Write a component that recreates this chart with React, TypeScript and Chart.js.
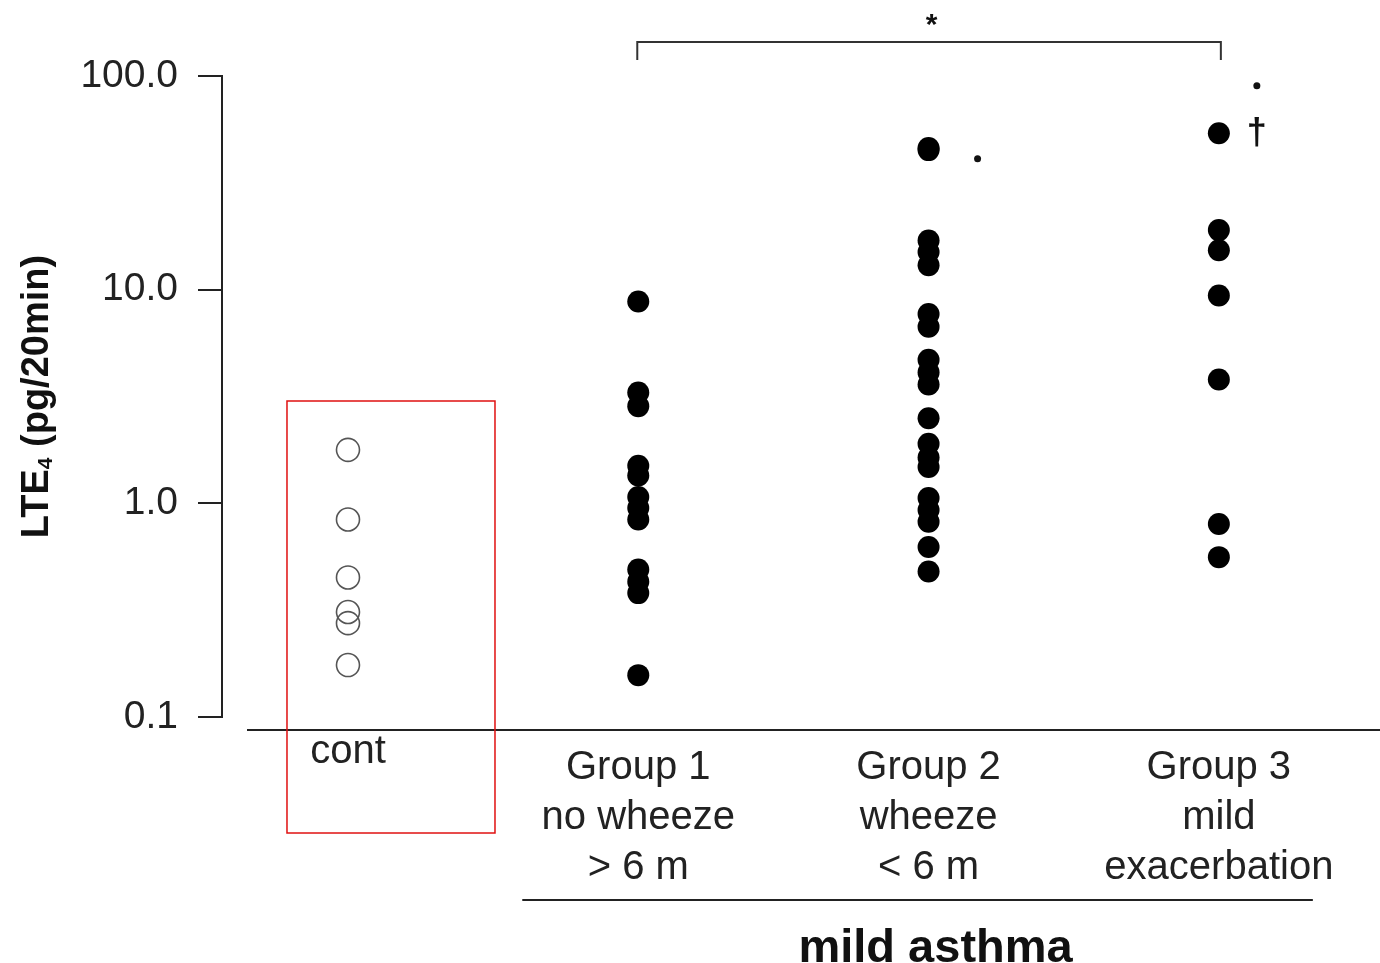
import React, { useEffect, useRef } from "react";
import { Chart, registerables } from "chart.js";

Chart.register(...registerables);

// ---- data ----
const categories = ["cont", "Group 1", "Group 2", "Group 3"];
const categoryLabels: string[][] = [
  ["cont"],
  ["Group 1", "no wheeze", "> 6 m"],
  ["Group 2", "wheeze", "< 6 m"],
  ["Group 3", "mild", "exacerbation"],
];
const yTicks = [0.1, 1, 10, 100];
const contValues = [1.78, 0.84, 0.45, 0.31, 0.275, 0.175];
const group1Values = [8.8, 3.3, 2.85, 1.5, 1.35, 1.07, 0.95, 0.84, 0.49, 0.43, 0.38, 0.157];
const group2Values = [45, 46, 17, 15, 13, 7.7, 6.7, 4.7, 4.1, 3.6, 2.5, 1.9, 1.64, 1.48, 1.06, 0.93, 0.82, 0.625, 0.48];
const group3Values = [54, 19, 15.3, 9.4, 3.8, 0.8, 0.56];
const groupTitle = "mild asthma";
const yTitleMain = "LTE";
const yTitleSub = "4";
const yTitleRest = " (pg/20min)";
const significanceStar = "*";
const dagger = "\u2020";
// small significance dots (category index, value)
const sigDots: [number, number][] = [
  [2, 41],
  [3, 90],
];

const FONT = "'Liberation Sans', Arial, Helvetica, sans-serif";
const INK = "#222";

const toPoints = (idx: number, vals: number[]) => vals.map((v) => ({ x: idx, y: v }));

const annotations = {
  id: "annotations",
  afterDraw(chart: any) {
    const ctx = chart.ctx as CanvasRenderingContext2D;
    const xs = chart.scales.x;
    const ys = chart.scales.y;
    const { top, bottom, left } = chart.chartArea;
    const px = (i: number) => xs.getPixelForValue(i);
    ctx.save();
    ctx.strokeStyle = INK;
    ctx.fillStyle = INK;
    ctx.lineWidth = 2;

    // detached x-axis line
    ctx.beginPath();
    ctx.moveTo(left + 25, bottom + 13);
    ctx.lineTo(chart.width, bottom + 13);
    ctx.stroke();

    // group line
    ctx.beginPath();
    ctx.moveTo(px(1) - 116, bottom + 183);
    ctx.lineTo(px(3) + 94, bottom + 183);
    ctx.stroke();

    // group title
    ctx.font = `bold 47px ${FONT}`;
    ctx.textAlign = "center";
    ctx.textBaseline = "middle";
    ctx.fillStyle = "#111";
    ctx.fillText(groupTitle, px(2) + 7, bottom + 232);

    // bracket
    ctx.strokeStyle = "#333";
    ctx.beginPath();
    ctx.moveTo(px(1) - 1, top - 16);
    ctx.lineTo(px(1) - 1, top - 34);
    ctx.lineTo(px(3) + 2, top - 34);
    ctx.lineTo(px(3) + 2, top - 16);
    ctx.stroke();
    ctx.fillStyle = "#111";
    ctx.font = `bold 30px ${FONT}`;
    ctx.fillText(significanceStar, (px(1) + px(3)) / 2 + 3, top - 50);

    // significance dots and dagger
    sigDots.forEach(([i, v], k) => {
      ctx.beginPath();
      ctx.arc(px(i) + (k === 0 ? 49 : 38), ys.getPixelForValue(v), 3.5, 0, Math.PI * 2);
      ctx.fill();
    });
    ctx.font = `bold 36px ${FONT}`;
    ctx.fillText(dagger, px(3) + 38, ys.getPixelForValue(group3Values[0]) + 1);

    // y title with subscript
    ctx.save();
    ctx.translate(48, (top + bottom) / 2 + 0);
    ctx.rotate(-Math.PI / 2);
    ctx.textAlign = "left";
    ctx.textBaseline = "alphabetic";
    const fMain = `bold 38px ${FONT}`;
    const fSub = `bold 21px ${FONT}`;
    ctx.font = fMain;
    const w1 = ctx.measureText(yTitleMain).width;
    const w3 = ctx.measureText(yTitleRest).width;
    ctx.font = fSub;
    const w2 = ctx.measureText(yTitleSub).width;
    let x0 = -(w1 + w2 + w3) / 2;
    ctx.font = fMain;
    ctx.fillText(yTitleMain, x0, 0);
    x0 += w1;
    ctx.font = fSub;
    ctx.fillText(yTitleSub, x0, 4);
    x0 += w2;
    ctx.font = fMain;
    ctx.fillText(yTitleRest, x0, 0);
    ctx.restore();

    // red highlight box around control group
    ctx.strokeStyle = "#e01010";
    ctx.lineWidth = 1.5;
    ctx.strokeRect(px(0) - 61, top + 325, 208, 432);

    ctx.restore();
  },
};

export default function App() {
  const ref = useRef<HTMLCanvasElement | null>(null);
  useEffect(() => {
    if (!ref.current) return;
    const dot = { pointRadius: 11, pointHoverRadius: 11, backgroundColor: "#000", borderColor: "#000", borderWidth: 0 };
    const chart = new Chart(ref.current, {
      type: "scatter",
      data: {
        datasets: [
          {
            label: categories[0],
            data: toPoints(0, contValues),
            pointRadius: 11.5,
            pointHoverRadius: 11.5,
            backgroundColor: "rgba(255,255,255,0)",
            borderColor: "#555",
            borderWidth: 1.6,
          },
          { label: categories[1], data: toPoints(1, group1Values), ...dot },
          { label: categories[2], data: toPoints(2, group2Values), ...dot },
          { label: categories[3], data: toPoints(3, group3Values), ...dot },
        ],
      },
      options: {
        responsive: false,
        animation: false,
        layout: { padding: { top: 76, left: 0, right: 0, bottom: 0 } },
        plugins: { legend: { display: false }, tooltip: { enabled: false } },
        scales: {
          x: {
            type: "linear",
            min: -0.434,
            max: 3.51,
            afterBuildTicks: (s: any) => {
              s.ticks = categoryLabels.map((_, i) => ({ value: i }));
            },
            afterFit: (s: any) => {
              s.height = 246;
              s.paddingLeft = 0;
              s.paddingRight = 0;
            },
            border: { display: false },
            grid: { display: false, drawTicks: false },
            ticks: {
              autoSkip: false,
              maxRotation: 0,
              minRotation: 0,
              padding: 26,
              color: INK,
              font: (c: any) =>
                c.index === 0
                  ? { family: FONT, size: 40, lineHeight: 0.45 }
                  : { family: FONT, size: 40, lineHeight: 1.25 },
              callback: (v: any) => categoryLabels[Number(v)] ?? "",
            },
          },
          y: {
            type: "logarithmic",
            min: 0.1,
            max: 100,
            afterBuildTicks: (s: any) => {
              s.ticks = yTicks.map((v) => ({ value: v }));
            },
            afterFit: (s: any) => {
              s.width = 222;
            },
            border: { display: true, color: INK, width: 2 },
            grid: { drawOnChartArea: false, drawTicks: true, tickLength: 24, color: INK, lineWidth: 2 },
            ticks: {
              padding: 20,
              color: INK,
              font: { family: FONT, size: 39 },
              callback: (v: any) => Number(v).toFixed(1),
            },
          },
        },
      },
      plugins: [annotations],
    } as any);
    return () => chart.destroy();
  }, []);
  return (
    <div style={{ position: "fixed", left: 0, top: 0, width: 1380, height: 963, background: "#fff" }}>
      <canvas ref={ref} width={1380} height={963} style={{ display: "block" }} />
    </div>
  );
}
